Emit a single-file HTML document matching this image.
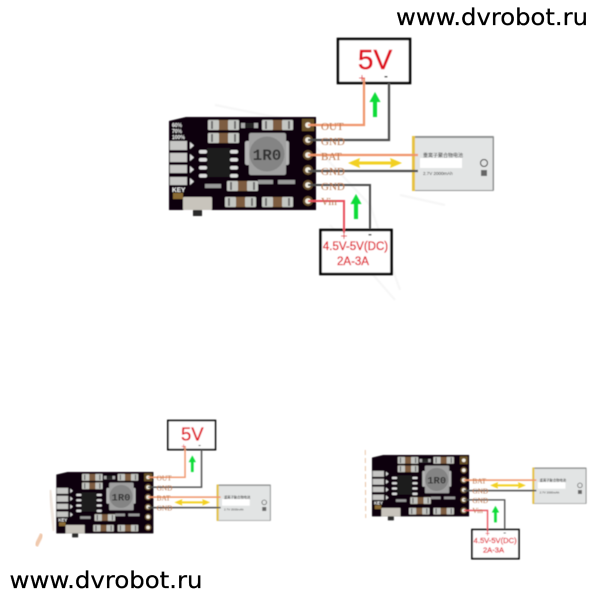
<!DOCTYPE html>
<html>
<head>
<meta charset="utf-8">
<style>
html,body{margin:0;padding:0;background:#fff;width:600px;height:600px;overflow:hidden}
svg{display:block}
.url{font-family:"DejaVu Sans",sans-serif;font-size:23px;fill:#000;stroke:#000;stroke-width:.25px}
.pl{font-family:"Liberation Serif",serif;font-size:11px;fill:#b8764f}
.bt{font-family:"Liberation Sans",sans-serif;fill:#e0101f}
.bk{font-family:"Liberation Sans",sans-serif;fill:#111;font-weight:bold}
.w{font-family:"Liberation Sans",sans-serif;fill:#fff;font-weight:bold}
.bl{font-family:"Liberation Sans","Noto Sans CJK SC",sans-serif;fill:#333}
</style>
</head>
<body>
<svg width="600" height="600" viewBox="0 0 600 600" xmlns="http://www.w3.org/2000/svg">
<defs>
<filter id="b" x="-5%" y="-5%" width="110%" height="110%"><feGaussianBlur stdDeviation="0.85"/></filter>
<filter id="b2" x="-5%" y="-5%" width="110%" height="110%"><feGaussianBlur stdDeviation="0.5"/></filter>
<g id="cap">
<rect x="0" y="0" width="31" height="10" rx="1" fill="#7d5c40"/>
<rect x="0" y="0" width="11" height="10" rx="1" fill="#c4c6c2"/>
<rect x="20" y="0" width="11" height="10" rx="1" fill="#c4c6c2"/>
<rect x="3" y="1" width="2" height="8" fill="#6c6c6c"/>
<rect x="26" y="1" width="2" height="8" fill="#6c6c6c"/>
</g>
<g id="pad"><rect width="8" height="3.500" rx="1.500" fill="#dcdcdc"/></g>
<g id="pin">
<circle r="5" fill="#6c5230"/>
<circle r="2.800" fill="#f5f2e6"/>
</g>
<g id="board">
<path d="M169 121 L186 117 L316 117 L316 210 L169 210 Z" fill="#070507"/>
<use href="#cap" x="208" y="120"/>
<use href="#cap" x="208" y="133"/>
<use href="#cap" x="262" y="120"/>
<use href="#cap" x="227" y="181"/>
<use href="#cap" x="225" y="197"/>
<use href="#cap" x="262" y="197"/>
<rect x="241" y="123" width="17" height="5" fill="#aaa"/>
<rect x="245" y="123" width="9" height="5" fill="#222"/>
<rect x="205" y="184" width="16" height="4" fill="#999"/>
<rect x="258" y="180" width="15" height="4" fill="#999"/>
<rect x="278" y="180" width="17" height="4" fill="#999"/>
<rect x="245" y="141" width="6" height="24" rx="2" fill="#b4b4b4"/>
<rect x="283" y="141" width="6" height="24" rx="2" fill="#b4b4b4"/>
<rect x="249" y="133" width="37" height="42" rx="2" fill="#a0a0a0"/>
<circle cx="267" cy="154" r="17.500" fill="#848484"/>
<rect x="207" y="148" width="23" height="29" fill="#1a1a1d"/>
<use href="#pad" x="199" y="150"/>
<use href="#pad" x="199" y="158"/>
<use href="#pad" x="199" y="166"/>
<use href="#pad" x="199" y="174"/>
<use href="#pad" x="230" y="150"/>
<use href="#pad" x="230" y="158"/>
<use href="#pad" x="230" y="166"/>
<use href="#pad" x="230" y="174"/>
<rect x="170" y="141" width="17" height="9" fill="#c6c6c4"/>
<rect x="170" y="153" width="17" height="9" fill="#c6c6c4"/>
<rect x="170" y="165" width="17" height="8" fill="#c6c6c4"/>
<rect x="170" y="177" width="17" height="8" fill="#c6c6c4"/>
<path d="M190 142v7l4-3.500z M190 154v7l4-3.500z M190 166v7l4-3.500z M190 178v7l4-3.500z" fill="#ddd"/>
<rect x="173" y="193" width="10" height="6" fill="#8a6a35"/>
<rect x="183" y="197" width="29" height="13" rx="1" fill="#c8c4bc"/>
<rect x="193" y="210" width="9" height="6" fill="#2a2a2a"/>
<rect x="302" y="119" width="12" height="12" fill="#6a5228"/>
<use href="#pin" x="308" y="125"/>
<use href="#pin" x="308" y="140"/>
<use href="#pin" x="308" y="155"/>
<use href="#pin" x="308" y="170"/>
<use href="#pin" x="308" y="185"/>
<use href="#pin" x="308" y="201"/>
</g>
<g id="batt">
<rect x="412" y="136" width="82" height="55" rx="1" fill="#8f9191"/>
<rect x="414" y="138" width="78.500" height="52" fill="#e2e4e4"/>
<rect x="412" y="136" width="3" height="55" fill="#e6c242"/>
<rect x="420" y="158" width="42" height="10" fill="#fff"/>
<circle cx="484" cy="163" r="3.500" fill="none" stroke="#333"/>
<rect x="481" y="170" width="6" height="6" fill="#666"/>
</g>
<path id="gr" d="M-5.500 10 L0 0 L5.500 10 L2 10 L2 25 L-2 25 L-2 10 Z" fill="#0edc38"/>
<path id="ye" d="M348 163 L360 158 L359 161.500 L391 161.500 L390 158 L402 163 L390 168 L391 164.500 L359 164.500 L360 168 Z" fill="#f2d020"/>
<g id="top5">
<rect x="338" y="39" width="72" height="44" fill="#fff" stroke="#000" stroke-width="2.600"/>
<path d="M308 125 H364 V78" fill="none" stroke="#f0946a" stroke-width="2.200"/>
<path d="M308 140 H389 V83" fill="none" stroke="#4c4c4c" stroke-width="2.200"/>
<use href="#gr" x="375" y="92"/>
</g>
<g id="botIn">
<rect x="320.500" y="230" width="71" height="44" fill="#fff" stroke="#000" stroke-width="2.600"/>
<path d="M308 201 H344 V233" fill="none" stroke="#e8505c" stroke-width="2"/>
<path d="M308 185 H370 V229" fill="none" stroke="#4c4c4c" stroke-width="2"/>
<use href="#gr" x="356" y="194"/>
</g>
<g id="bat">
<path d="M308 155 H418" fill="none" stroke="#f0946a" stroke-width="2.200"/>
<path d="M308 171 H418" fill="none" stroke="#4c4c4c" stroke-width="2.200"/>
<use href="#ye"/>
</g>
</defs>

<rect width="600" height="600" fill="#fff"/>

<g filter="url(#b)" fill="none" stroke="#f5f5f5" stroke-width="2">
<path d="M215 105 L290 120 L370 205 L400 290"/>
<path d="M330 225 L395 300"/>
<path d="M400 195 L445 205"/>
</g>

<!-- Main diagram -->
<g filter="url(#b2)">
<use href="#board"/>
<use href="#batt"/>
<text class="bl" x="423" y="157" font-size="5">重离子聚合物电池</text>
<text class="bl" x="423" y="175" font-size="4.500">2.7V  2000mAh</text>
<use href="#top5"/>
<use href="#botIn"/>
<use href="#bat"/>
<text x="375" y="69" text-anchor="middle" font-size="28" class="bt" stroke="#e0101f" stroke-width=".5">5V</text>
<text x="362" y="82" text-anchor="middle" font-size="12" class="bt">+</text>
<text x="386" y="80" text-anchor="middle" font-size="12" class="bk">-</text>
<text x="344" y="240" text-anchor="middle" font-size="12" class="bt">+</text>
<text x="370" y="238" text-anchor="middle" font-size="12" class="bk">-</text>
<text x="355.500" y="250" text-anchor="middle" font-size="11.500" class="bt" stroke="#e0101f" stroke-width=".3">4.5V-5V(DC)</text>
<text x="353" y="265" text-anchor="middle" font-size="11.500" class="bt" stroke="#e0101f" stroke-width=".3">2A-3A</text>
<text class="pl" x="321" y="130">OUT</text>
<text class="pl" x="321" y="145">GND</text>
<text class="pl" x="321" y="160">BAT</text>
<text class="pl" x="321" y="175">GND</text>
<text class="pl" x="321" y="190">GND</text>
<text class="pl" x="321" y="205">Vin</text>
<text x="267" y="160" text-anchor="middle" font-size="16" fill="#333" font-family="Liberation Mono, monospace" font-weight="bold">1R0</text>
<text class="w" x="172" y="127" font-size="5">60%</text>
<text class="w" x="172" y="133" font-size="5">70%</text>
<text class="w" x="172" y="139" font-size="5">100%</text>
<text class="w" x="172" y="192" font-size="6.500">KEY</text>
</g>

<!-- Small left diagram -->
<g transform="translate(-55.200 394.800) scale(.66)" filter="url(#b)">
<use href="#board"/>
<use href="#batt"/>
<text class="bl" x="423" y="157" font-size="5">重离子聚合物电池</text>
<text class="bl" x="423" y="175" font-size="4.500">2.7V  2000mAh</text>
<use href="#top5"/>
<use href="#bat"/>
<text x="375" y="69" text-anchor="middle" font-size="28" class="bt" stroke="#e0101f" stroke-width=".5">5V</text>
<text x="362" y="82" text-anchor="middle" font-size="12" class="bt">+</text>
<text x="386" y="80" text-anchor="middle" font-size="12" class="bk">-</text>
<text class="pl" x="321" y="130">OUT</text>
<text class="pl" x="321" y="145">GND</text>
<text class="pl" x="321" y="160">BAT</text>
<text class="pl" x="321" y="175">GND</text>
<text x="267" y="160" text-anchor="middle" font-size="16" fill="#333" font-family="Liberation Mono, monospace" font-weight="bold">1R0</text>
<text class="w" x="172" y="192" font-size="6.500">KEY</text>
</g>
<path d="M50 490 L54 531" stroke="#efe6df" stroke-width="3" fill="none" filter="url(#b2)"/>
<path d="M42 534 L36 546" stroke="#f0c9ae" stroke-width="4" fill="none" filter="url(#b2)"/>

<!-- Small right diagram -->
<g transform="translate(260.500 377.800) scale(.66)" filter="url(#b)">
<use href="#board"/>
<use href="#batt"/>
<text class="bl" x="423" y="157" font-size="5">重离子聚合物电池</text>
<text class="bl" x="423" y="175" font-size="4.500">2.7V  2000mAh</text>
<use href="#botIn"/>
<use href="#bat"/>
<text x="344" y="240" text-anchor="middle" font-size="12" class="bt">+</text>
<text x="370" y="238" text-anchor="middle" font-size="12" class="bk">-</text>
<text x="355.500" y="250" text-anchor="middle" font-size="11.500" class="bt" stroke="#e0101f" stroke-width=".3">4.5V-5V(DC)</text>
<text x="353" y="265" text-anchor="middle" font-size="11.500" class="bt" stroke="#e0101f" stroke-width=".3">2A-3A</text>
<text class="pl" x="321" y="160">BAT</text>
<text class="pl" x="321" y="175">GND</text>
<text class="pl" x="321" y="190">GND</text>
<text class="pl" x="321" y="205">Vin</text>
<text x="267" y="160" text-anchor="middle" font-size="16" fill="#333" font-family="Liberation Mono, monospace" font-weight="bold">1R0</text>
<text class="w" x="172" y="192" font-size="6.500">KEY</text>
</g>
<path d="M365 450 L366 518" stroke="#f0d8c4" stroke-width="2" stroke-dasharray="5 3" fill="none" filter="url(#b2)"/>

<text class="url" x="396" y="25" textLength="192" lengthAdjust="spacingAndGlyphs">www.dvrobot.ru</text>
<text class="url" x="9.500" y="588" textLength="193" lengthAdjust="spacingAndGlyphs">www.dvrobot.ru</text>
</svg>
</body>
</html>
